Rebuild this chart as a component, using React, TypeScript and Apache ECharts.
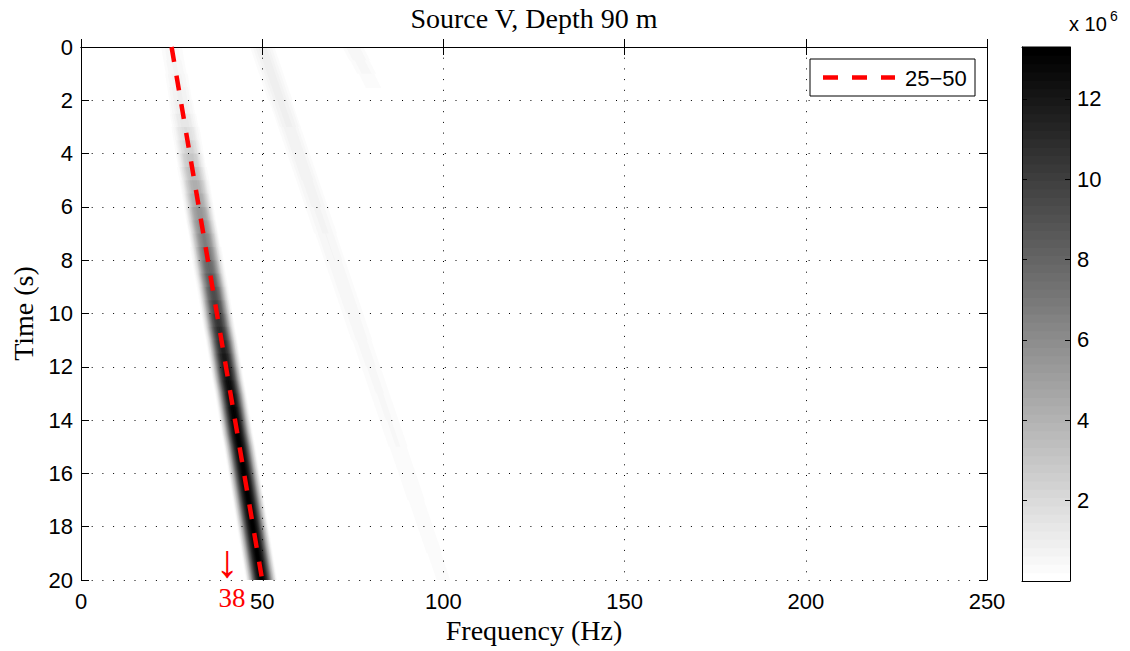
import React, { useEffect, useRef } from "react";
import * as echarts from "echarts";

// ---- data ----
const segTimes = [0, 0.5, 1, 1.5, 2, 2.5, 3, 3.5, 4, 4.5, 5, 5.5, 6, 6.5, 7, 7.5, 8, 8.5, 9, 9.5, 10, 10.5, 11, 11.5, 12, 12.5, 13, 13.5, 14, 14.5, 15, 15.5, 16, 16.5, 17, 17.5, 18, 18.5, 19, 19.5, 20];
const ridgeHz = [25, 25.6, 26.3, 26.9, 27.5, 28.1, 28.8, 29.4, 30, 30.6, 31.3, 31.9, 32.5, 33.1, 33.8, 34.4, 35, 35.6, 36.3, 36.9, 37.5, 38.1, 38.8, 39.4, 40, 40.6, 41.3, 41.9, 42.5, 43.1, 43.8, 44.4, 45, 45.6, 46.2, 46.8, 47.4, 48, 48.6, 49.2, 49.8];
const ridgePeak = [0.6, 0.6, 0.7, 0.8, 0.9, 1.2, 1.6, 2.2, 2.8, 3.4, 4.0, 4.6, 5.3, 5.9, 6.5, 7.0, 7.6, 8.3, 8.9, 9.6, 10.2, 10.8, 11.3, 11.8, 12.2, 12.6, 12.9, 13.1, 13.2, 13.25, 13.3, 13.3, 13.3, 13.3, 13.3, 13.3, 13.3, 13.3, 13.3, 13.3, 13.3];

const harm2Times = [0, 1, 2, 3, 4, 5, 6, 7, 8, 9, 10, 11, 12, 13, 14, 15, 16, 17, 18, 19, 20];
const harm2Hz = [50, 52.5, 55, 57.5, 60, 62.5, 65, 67.5, 70, 72.5, 75, 77.5, 80, 82.5, 85, 87.5, 90, 92.5, 95, 97.5, 100];
const harm2Peak = [0.9, 0.95, 0.9, 0.85, 0.8, 0.75, 0.7, 0.65, 0.6, 0.6, 0.55, 0.5, 0.5, 0.45, 0.45, 0.4, 0.4, 0.35, 0.35, 0.3, 0.3];

const harm3Times = [0, 0.5, 1, 1.5];
const harm3Hz = [75, 76.9, 78.8, 80.6];
const harm3Peak = [0.6, 0.55, 0.45, 0.2];

// band cross-section (relative level vs offset from ridge, Hz)
const profileOffsetHz = [0, 0.5, 1, 1.5, 2, 2.5, 3, 3.5, 4, 4.5];
const profileRel = [1, 0.98, 0.92, 0.82, 0.67, 0.49, 0.31, 0.16, 0.06, 0];

const guideHz = [25, 50];
const guideTime = [0, 20];
const guideName = "25\u221250";

const colorbarMax = 13.29; // x 10^6
const colorLevels = 64;

// ---- helpers ----
const HALF_HZ = profileOffsetHz[profileOffsetHz.length - 1];

function profileAt(d: number): number {
  const a = Math.abs(d);
  for (let i = 0; i < profileOffsetHz.length - 1; i++) {
    const x0 = profileOffsetHz[i], x1 = profileOffsetHz[i + 1];
    if (a >= x0 && a <= x1) {
      const r = (a - x0) / (x1 - x0);
      return profileRel[i] + r * (profileRel[i + 1] - profileRel[i]);
    }
  }
  return 0;
}

function grayOf(v: number): string {
  const idx = Math.min(colorLevels - 1, Math.max(0, Math.floor((v / colorbarMax) * colorLevels)));
  const g = Math.round(255 * (1 - idx / (colorLevels - 1)));
  return `rgb(${g},${g},${g})`;
}

function buildSegments(times: number[], hz: number[], peak: number[]) {
  const out: number[][] = [];
  for (let i = 0; i < times.length - 1; i++) {
    out.push([times[i], times[i + 1], hz[i], hz[i + 1], (peak[i] + peak[i + 1]) / 2]);
  }
  return out;
}

const bandSegments = [
  ...buildSegments(harm2Times, harm2Hz, harm2Peak),
  ...buildSegments(harm3Times, harm3Hz, harm3Peak),
  ...buildSegments(segTimes, ridgeHz, ridgePeak),
];

const colorbarData = Array.from({ length: colorLevels }, (_, k) => [k]);

const SANS = '"Liberation Sans", Arial, Helvetica, sans-serif';
const SERIF = '"Liberation Serif", "Times New Roman", serif';

export default function App() {
  const ref = useRef<HTMLDivElement>(null);

  useEffect(() => {
    if (!ref.current) return;
    const chart = echarts.init(ref.current, undefined, { renderer: "svg" });

    const renderBand = (_params: any, api: any) => {
      const t0 = api.value(0), t1 = api.value(1), f0 = api.value(2), f1 = api.value(3), p = api.value(4);
      const c0 = api.coord([f0, t0]);
      const c1 = api.coord([f1, t1]);
      const e0 = api.coord([f0 + HALF_HZ, t0]);
      const hw = e0[0] - c0[0];
      const dx = c1[0] - c0[0];
      const dy = c1[1] - c0[1];
      const L = Math.hypot(dx, dy);
      const sx = dx / dy;
      const points = [
        [c0[0] - hw, c0[1]],
        [c0[0] + hw, c0[1]],
        [c1[0] + hw + sx, c1[1] + 1],
        [c1[0] - hw + sx, c1[1] + 1],
      ];
      const nx = dy / L, ny = -dx / L;
      const W = (hw * dy) / L;
      const mx = (c0[0] + c1[0]) / 2, my = (c0[1] + c1[1]) / 2;
      const stops = [];
      const N = 36;
      for (let i = 0; i <= N; i++) {
        const off = i / N;
        const d = -HALF_HZ + 2 * HALF_HZ * off;
        stops.push({ offset: off, color: grayOf(p * profileAt(d)) });
      }
      return {
        type: "polygon",
        shape: { points },
        style: {
          fill: {
            type: "linear",
            x: mx - nx * W,
            y: my - ny * W,
            x2: mx + nx * W,
            y2: my + ny * W,
            global: true,
            colorStops: stops,
          },
          stroke: null,
        },
      };
    };

    const renderColorbar = (_params: any, api: any) => {
      const k = api.value(0);
      const lo = api.coord([0, (k * colorbarMax) / colorLevels]);
      const hi = api.coord([1, ((k + 1) * colorbarMax) / colorLevels]);
      const g = Math.round(255 * (1 - k / (colorLevels - 1)));
      return {
        type: "rect",
        shape: { x: lo[0], y: hi[1] - 0.5, width: hi[0] - lo[0], height: lo[1] - hi[1] + 1 },
        style: { fill: `rgb(${g},${g},${g})`, stroke: null },
      };
    };

    const axisLineStyle = { lineStyle: { color: "#000", width: 1 } };
    const dotted = { show: true, lineStyle: { color: "#000", width: 1, type: [1, 9.7] } };

    chart.setOption({
      animation: false,
      backgroundColor: "#fff",
      grid: [
        { left: 81, top: 47, width: 906, height: 533 },
        { left: 1022, top: 47, width: 48, height: 534 },
      ],
      xAxis: [
        {
          gridIndex: 0, type: "value", position: "bottom", min: 0, max: 250, interval: 50, z: 3,
          axisLine: { show: true, ...axisLineStyle },
          axisTick: { show: true, inside: true, length: 8, lineStyle: { color: "#000" } },
          axisLabel: { color: "#000", fontSize: 22, fontFamily: SANS, margin: 10 },
          splitLine: dotted,
          name: "Frequency (Hz)", nameLocation: "middle", nameGap: 35,
          nameTextStyle: { color: "#000", fontSize: 28, fontFamily: SERIF },
        },
        {
          gridIndex: 0, type: "value", position: "top", min: 0, max: 250, interval: 50, z: 3,
          axisLine: { show: true, onZero: false, ...axisLineStyle },
          axisTick: { show: true, inside: true, length: 8, lineStyle: { color: "#000" } },
          axisLabel: { show: false }, splitLine: { show: false },
        },
        {
          gridIndex: 1, type: "value", position: "bottom", min: 0, max: 1, z: 3,
          axisLine: { show: true, onZero: false, ...axisLineStyle },
          axisTick: { show: false }, axisLabel: { show: false }, splitLine: { show: false },
        },
        {
          gridIndex: 1, type: "value", position: "top", min: 0, max: 1, z: 3,
          axisLine: { show: true, onZero: false, ...axisLineStyle },
          axisTick: { show: false }, axisLabel: { show: false }, splitLine: { show: false },
        },
      ],
      yAxis: [
        {
          gridIndex: 0, type: "value", position: "left", inverse: true, min: 0, max: 20, interval: 2, z: 3,
          axisLine: { show: true, onZero: false, ...axisLineStyle },
          axisTick: { show: true, inside: true, length: 8, lineStyle: { color: "#000" } },
          axisLabel: { color: "#000", fontSize: 22, fontFamily: SANS, margin: 8 },
          splitLine: dotted,
          name: "Time (s)", nameLocation: "middle", nameGap: 42, nameRotate: 90,
          nameTextStyle: { color: "#000", fontSize: 28, fontFamily: SERIF },
        },
        {
          gridIndex: 0, type: "value", position: "right", inverse: true, min: 0, max: 20, interval: 2, z: 3,
          axisLine: { show: true, onZero: false, ...axisLineStyle },
          axisTick: { show: true, inside: true, length: 8, lineStyle: { color: "#000" } },
          axisLabel: { show: false }, splitLine: { show: false },
        },
        {
          gridIndex: 1, type: "value", position: "left", min: 0, max: colorbarMax, interval: 2, z: 3,
          axisLine: { show: true, onZero: false, ...axisLineStyle },
          axisTick: { show: true, inside: true, length: 5, lineStyle: { color: "#000" } },
          axisLabel: { show: false }, splitLine: { show: false },
        },
        {
          gridIndex: 1, type: "value", position: "right", min: 0, max: colorbarMax, interval: 2, z: 3,
          axisLine: { show: true, onZero: false, ...axisLineStyle },
          axisTick: { show: true, inside: true, length: 5, lineStyle: { color: "#000" } },
          axisLabel: {
            color: "#000", fontSize: 22, fontFamily: SANS, margin: 7,
            formatter: (v: number) => (v > 0 && Math.abs(v - Math.round(v)) < 1e-9 && Math.round(v) % 2 === 0 ? String(v) : ""),
          },
          splitLine: { show: false },
        },
      ],
      series: [
        {
          type: "custom",
          name: "spectrogram",
          xAxisIndex: 0,
          yAxisIndex: 0,
          renderItem: renderBand,
          data: bandSegments,
          clip: true,
          silent: true,
          z: 1,
        },
        {
          type: "line",
          name: guideName,
          xAxisIndex: 0,
          yAxisIndex: 0,
          data: guideHz.map((f, i) => [f, guideTime[i]]),
          symbol: "none",
          lineStyle: { color: "#ff0000", width: 4.5, type: [15, 14] },
          silent: true,
          z: 10,
        },
        {
          type: "custom",
          name: "colorbar",
          xAxisIndex: 2,
          yAxisIndex: 2,
          renderItem: renderColorbar,
          data: colorbarData,
          silent: true,
          z: 1,
        },
      ],
      graphic: [
        {
          type: "text", x: 534, y: 18, z: 50,
          style: { text: "Source V, Depth 90 m", fontSize: 28, fontFamily: SERIF, fill: "#000", align: "center", verticalAlign: "middle" },
        },
        {
          type: "rect", z: 50,
          shape: { x: 810, y: 59, width: 165, height: 37 },
          style: { fill: "#fff", stroke: "#000", lineWidth: 1 },
        },
        {
          type: "line", z: 51,
          shape: { x1: 823, y1: 77.5, x2: 895, y2: 77.5 },
          style: { stroke: "#ff0000", lineWidth: 4.5, lineDash: [15, 14] },
        },
        {
          type: "text", x: 905, y: 78, z: 51,
          style: { text: guideName, fontSize: 22, fontFamily: SANS, fill: "#000", align: "left", verticalAlign: "middle" },
        },
        {
          type: "text", x: 227, y: 561, z: 51,
          style: { text: "\u2193", fontSize: 46, fontFamily: SERIF, fill: "#ff0000", align: "center", verticalAlign: "middle" },
        },
        {
          type: "text", x: 232, y: 598, z: 51,
          style: { text: "38", fontSize: 27, fontFamily: SERIF, fill: "#ff0000", align: "center", verticalAlign: "middle" },
        },
        {
          type: "text", x: 1069, y: 24, z: 51,
          style: { text: "x 10", fontSize: 20, fontFamily: SANS, fill: "#000", align: "left", verticalAlign: "middle" },
        },
        {
          type: "text", x: 1110, y: 16, z: 51,
          style: { text: "6", fontSize: 14, fontFamily: SANS, fill: "#000", align: "left", verticalAlign: "middle" },
        },
      ],
    });

    return () => chart.dispose();
  }, []);

  return <div ref={ref} style={{ width: 1130, height: 651, position: "absolute", left: 0, top: 0 }} />;
}
